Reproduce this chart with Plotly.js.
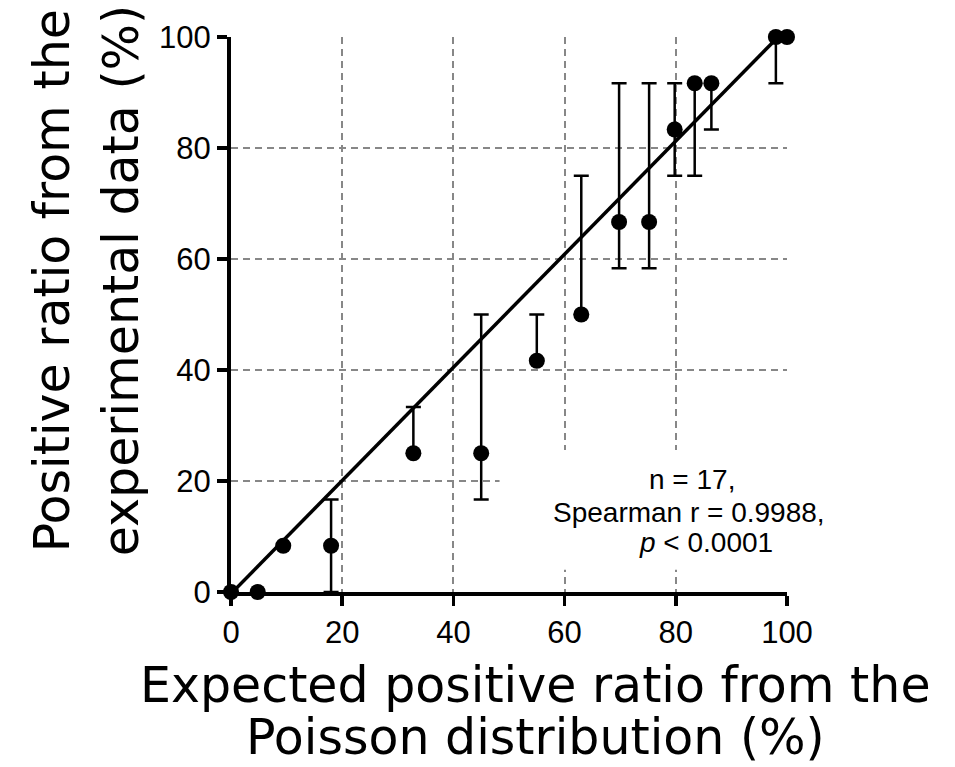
<!DOCTYPE html>
<html>
<head>
<meta charset="utf-8">
<script src="https://cdn.plot.ly/plotly-3.0.1.min.js"></script>
<style>
  html, body { margin: 0; padding: 0; background: #ffffff; }
  #chart { width: 955px; height: 767px; }
</style>
</head>
<body>
<div id="chart"></div>
<script>
// Expected positive ratio from Poisson distribution (%)
const expectedX = [0, 4.8, 9.4, 18.0, 32.8, 45.0, 55.0, 63.0, 69.8, 75.2, 79.8, 83.4, 86.4, 98.0, 100];
// Observed positive ratio from experimental data (%)
const observedY = [0, 0, 8.33, 8.33, 25, 25, 41.67, 50, 66.67, 66.67, 83.33, 91.67, 91.67, 100, 100];
// Error bar extents (upper / lower)
const errPlus  = [0, 0, 0, 8.33, 8.33, 25, 8.33, 25, 25, 25, 8.33, 0, 0, 0, 0];
const errMinus = [0, 0, 0, 8.33, 0, 8.33, 0, 0, 8.33, 8.33, 8.33, 16.67, 8.33, 8.33, 0];
// Fitted line end points
const fitX = [0, 98];
const fitY = [-0.3, 99.6];
const tickVals = [0, 20, 40, 60, 80, 100];
const statLines = ["n = 17,", "Spearman r = 0.9988,", "<i>p</i> < 0.0001"];

const tickFont = { family: "Liberation Sans, Arial, sans-serif", size: 31, color: "#000" };
const statFont = { family: "Liberation Sans, Arial, sans-serif", size: 28, color: "#000" };
const titleFont = { family: "DejaVu Sans, Verdana, sans-serif", size: 49, color: "#000" };

const traces = [
  {
    x: fitX, y: fitY, mode: "lines", type: "scatter",
    line: { color: "#000", width: 3.5 },
    hoverinfo: "skip", showlegend: false
  },
  {
    x: expectedX, y: observedY, mode: "markers", type: "scatter",
    marker: { color: "#000", size: 16, symbol: "circle" },
    error_y: {
      type: "data", symmetric: false,
      array: errPlus, arrayminus: errMinus,
      color: "#000", thickness: 2.5, width: 7.5
    },
    cliponaxis: false, showlegend: false
  }
];

const axisCommon = {
  range: [0, 100],
  tickmode: "array",
  tickvals: tickVals,
  ticks: "outside",
  ticklen: 10,
  tickwidth: 3.5,
  tickcolor: "#000",
  showline: true,
  linecolor: "#000",
  linewidth: 4,
  showgrid: true,
  gridcolor: "rgb(135,135,135)",
  gridwidth: 2,
  griddash: "7px,5px",
  zeroline: false,
  tickfont: tickFont,
  fixedrange: true
};

const layout = {
  width: 955, height: 767,
  margin: { l: 231, r: 168, t: 37, b: 175 },
  paper_bgcolor: "#fff", plot_bgcolor: "#fff",
  xaxis: Object.assign({}, axisCommon),
  yaxis: Object.assign({}, axisCommon),
  showlegend: false,
  shapes: [
    { type: "rect", xref: "x", yref: "y", x0: 48.3, x1: 101, y0: 4, y1: 25.6,
      fillcolor: "#fff", line: { width: 0 }, layer: "between" }
  ],
  annotations: [
    { text: "Expected positive ratio from the", xref: "paper", yref: "paper", x: 0.547, y: 0,
      xanchor: "center", yanchor: "middle", yshift: -93, showarrow: false, font: titleFont },
    { text: "Poisson distribution (%)", xref: "paper", yref: "paper", x: 0.547, y: 0,
      xanchor: "center", yanchor: "middle", yshift: -145, showarrow: false, font: titleFont },
    { text: "Positive ratio from the", xref: "paper", yref: "paper", x: 0, y: 0.56,
      xanchor: "center", yanchor: "middle", xshift: -179, textangle: -90, showarrow: false, font: titleFont },
    { text: "experimental data (%)", xref: "paper", yref: "paper", x: 0, y: 0.56,
      xanchor: "center", yanchor: "middle", xshift: -110, textangle: -90, showarrow: false, font: titleFont },
    { text: statLines[0], xref: "x", yref: "y", x: 82.9, y: 20.2, xanchor: "center", yanchor: "middle",
      showarrow: false, font: statFont },
    { text: statLines[1], xref: "x", yref: "y", x: 82.4, y: 14.4, xanchor: "center", yanchor: "middle",
      showarrow: false, font: statFont },
    { text: statLines[2], xref: "x", yref: "y", x: 85.4, y: 9.0, xanchor: "center", yanchor: "middle",
      showarrow: false, font: statFont }
  ]
};

Plotly.newPlot("chart", traces, layout, { displayModeBar: false, staticPlot: true });
</script>
</body>
</html>
